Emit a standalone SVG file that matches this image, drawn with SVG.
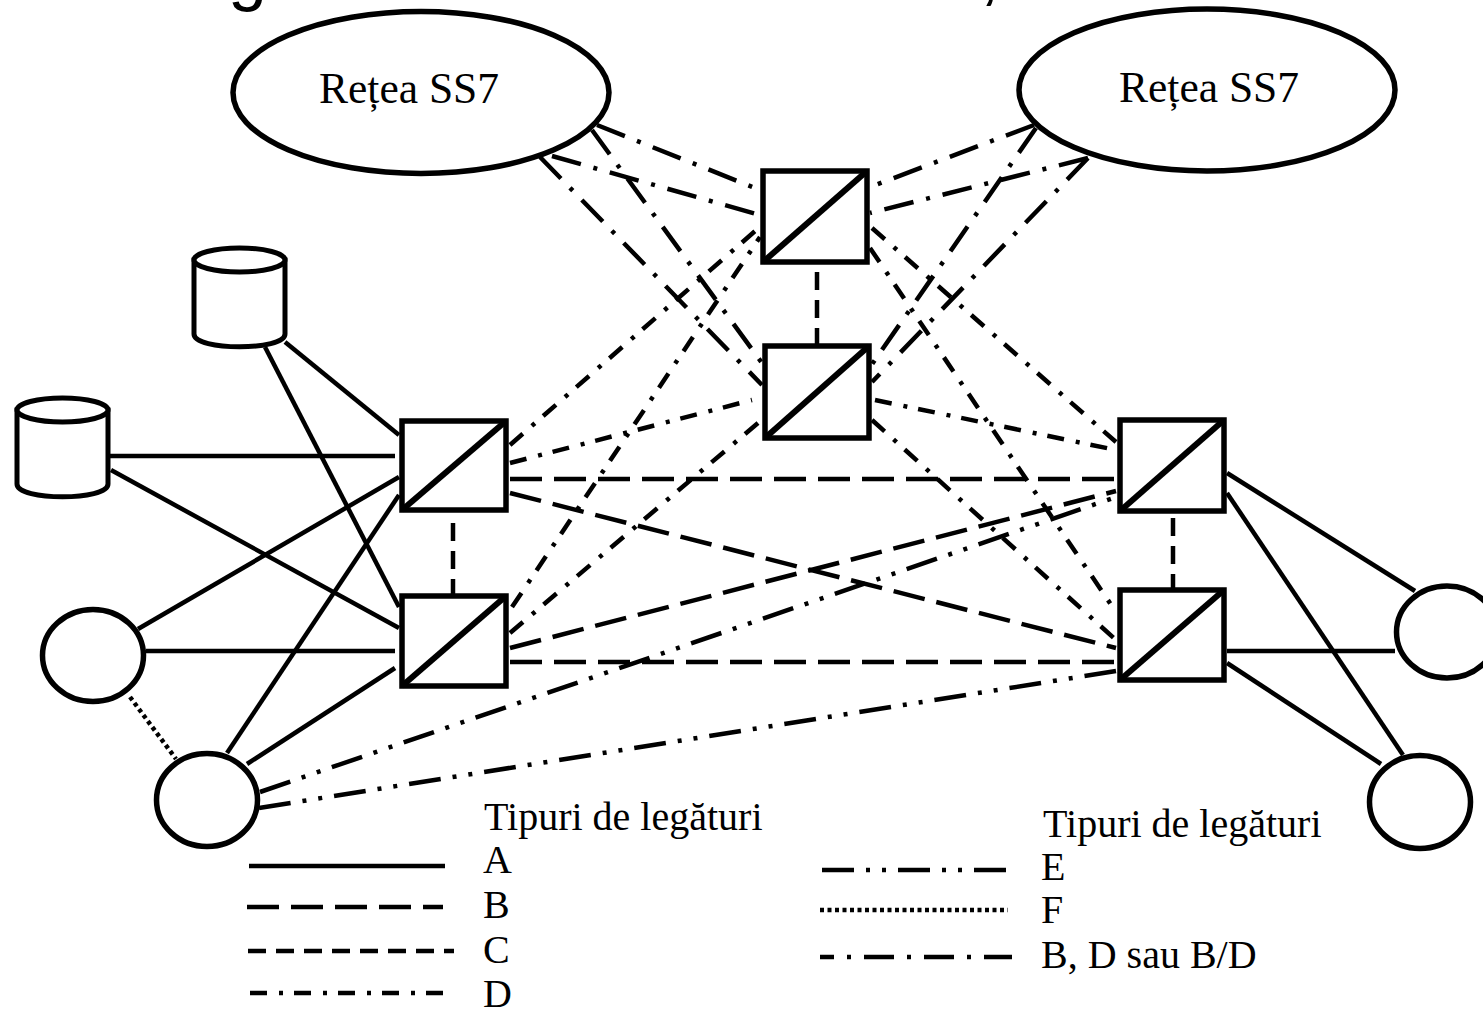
<svg xmlns="http://www.w3.org/2000/svg" width="1483" height="1011" viewBox="0 0 1483 1011">
<style>
.n{fill:#fff;stroke:#000;stroke-width:5.5}
.y{fill:#fff;stroke:#000;stroke-width:5}
.t{font-family:"Liberation Serif","Times New Roman",serif;fill:#000;font-size:40px}
.r{font-size:43.500px}
.h{font-family:"Liberation Sans",Arial,sans-serif;fill:#000;font-size:70px}
line{stroke:#000;stroke-width:4.500;fill:none}
.d{stroke-width:6;stroke:#000;fill:none}
.B{stroke-dasharray:32 12}
.C{stroke-dasharray:18 10}
.D{stroke-dasharray:17 12 4 11}
.E{stroke-dasharray:32 12 4 12 4 12}
.F{stroke-dasharray:4 3.500}
.G{stroke-dasharray:30 13 4 13}
</style>
<rect width="1483" height="1011" fill="#fff"/>
<text class="h" x="228" y="-3">g</text>
<text class="h" x="980" y="-3">,</text>
<g id="connectors">
<line x1="285" y1="342" x2="399" y2="435"/>
<line x1="265" y1="347" x2="399" y2="607"/>
<line x1="110" y1="456" x2="395" y2="456"/>
<line x1="111" y1="470" x2="399" y2="628"/>
<line x1="138" y1="629" x2="399" y2="477"/>
<line x1="146" y1="651" x2="395" y2="651"/>
<line x1="227" y1="753" x2="399" y2="495"/>
<line x1="247" y1="764" x2="395" y2="668"/>
<line class="F" x1="130" y1="697" x2="176" y2="759"/>
<line x1="1227" y1="473" x2="1415" y2="591"/>
<line x1="1227" y1="493" x2="1403" y2="755"/>
<line x1="1227" y1="651" x2="1395" y2="651"/>
<line x1="1227" y1="663" x2="1381" y2="764"/>
<line class="C" x1="453" y1="523" x2="453" y2="594"/>
<line class="C" x1="817" y1="272" x2="817" y2="345"/>
<line class="C" x1="1173" y1="518" x2="1173" y2="589"/>
<line class="B" x1="510" y1="479" x2="1116" y2="479"/>
<line class="B" x1="510" y1="493" x2="1116" y2="648"/>
<line class="B" x1="510" y1="662" x2="1116" y2="662"/>
<line class="B" x1="510" y1="648" x2="1116" y2="491"/>
<line class="E" x1="260" y1="792" x2="1116" y2="497"/>
<line class="E" x1="259" y1="808" x2="1116" y2="671"/>
<line class="D" x1="510" y1="445" x2="762" y2="225"/>
<line class="D" x1="510" y1="463" x2="752" y2="400"/>
<line class="D" x1="512" y1="607" x2="760" y2="237"/>
<line class="D" x1="510" y1="633" x2="758" y2="423"/>
<line class="D" x1="875" y1="400" x2="1116" y2="450"/>
<line class="D" x1="872" y1="420" x2="1116" y2="640"/>
<line class="D" x1="872" y1="228" x2="1116" y2="442"/>
<line class="D" x1="870" y1="248" x2="1116" y2="612"/>
<line class="G" x1="597" y1="125" x2="760" y2="190"/>
<line class="G" x1="552" y1="156" x2="760" y2="215"/>
<line class="G" x1="592" y1="130" x2="762" y2="363"/>
<line class="G" x1="540" y1="157" x2="762" y2="385"/>
<line class="G" x1="1034" y1="125" x2="870" y2="187"/>
<line class="G" x1="1088" y1="158" x2="870" y2="213"/>
<line class="G" x1="1036" y1="128" x2="868" y2="370"/>
<line class="G" x1="1088" y1="158" x2="872" y2="382"/>
</g>
<g id="net1"><ellipse class="n" cx="421" cy="92.500" rx="188" ry="81"/><text class="t r" x="319" y="103">Rețea SS7</text></g>
<g id="net2"><ellipse class="n" cx="1207" cy="90" rx="188" ry="81"/><text class="t r" x="1119" y="102">Rețea SS7</text></g>
<g id="sw1"><rect class="n" x="763" y="171" width="104" height="91"/><line class="d" x1="763" y1="262" x2="867" y2="171"/></g>
<g id="sw2"><rect class="n" x="765" y="346" width="104" height="92"/><line class="d" x1="765" y1="438" x2="869" y2="346"/></g>
<g id="sw3"><rect class="n" x="402" y="421" width="104" height="89"/><line class="d" x1="402" y1="510" x2="506" y2="421"/></g>
<g id="sw4"><rect class="n" x="402" y="596" width="104" height="90"/><line class="d" x1="402" y1="686" x2="506" y2="596"/></g>
<g id="sw5"><rect class="n" x="1120" y="420" width="104" height="91"/><line class="d" x1="1120" y1="511" x2="1224" y2="420"/></g>
<g id="sw6"><rect class="n" x="1120" y="590" width="104" height="90"/><line class="d" x1="1120" y1="680" x2="1224" y2="590"/></g>
<g id="db1"><path class="y" d="M194 260V334C194 351 285 351 285 334V260Z"/><ellipse class="y" cx="239.500" cy="260" rx="45.500" ry="12"/></g>
<g id="db2"><path class="y" d="M17 410V484C17 501 108 501 108 484V410Z"/><ellipse class="y" cx="62.500" cy="410" rx="45.500" ry="12"/></g>
<g id="c1"><ellipse class="n" cx="93" cy="655.500" rx="50.500" ry="46"/></g>
<g id="c2"><ellipse class="n" cx="207" cy="800" rx="50.500" ry="46.500"/></g>
<g id="c3"><ellipse class="n" cx="1447" cy="632" rx="50.500" ry="46"/></g>
<g id="c4"><ellipse class="n" cx="1420" cy="802" rx="50.500" ry="46.500"/></g>
<g id="legend">
<text class="t" x="484" y="830">Tipuri de legături</text>
<text class="t" x="483" y="873">A</text>
<text class="t" x="483" y="918">B</text>
<text class="t" x="483" y="963">C</text>
<text class="t" x="483" y="1007">D</text>
<text class="t" x="1043" y="837">Tipuri de legături</text>
<text class="t" x="1041" y="880">E</text>
<text class="t" x="1041" y="923">F</text>
<text class="t" x="1041" y="968">B, D sau B/D</text>
<line x1="249" y1="866" x2="445" y2="866"/>
<line class="B" x1="247" y1="907" x2="443" y2="907"/>
<line class="C" x1="248" y1="951" x2="454" y2="951"/>
<line class="D" x1="250" y1="993" x2="443" y2="993"/>
<line class="E" x1="822" y1="870" x2="1006" y2="870"/>
<line class="F" x1="820" y1="910" x2="1008" y2="910"/>
<line class="G" stroke-dashoffset="16" x1="820" y1="957" x2="1012" y2="957"/>
</g>
</svg>
